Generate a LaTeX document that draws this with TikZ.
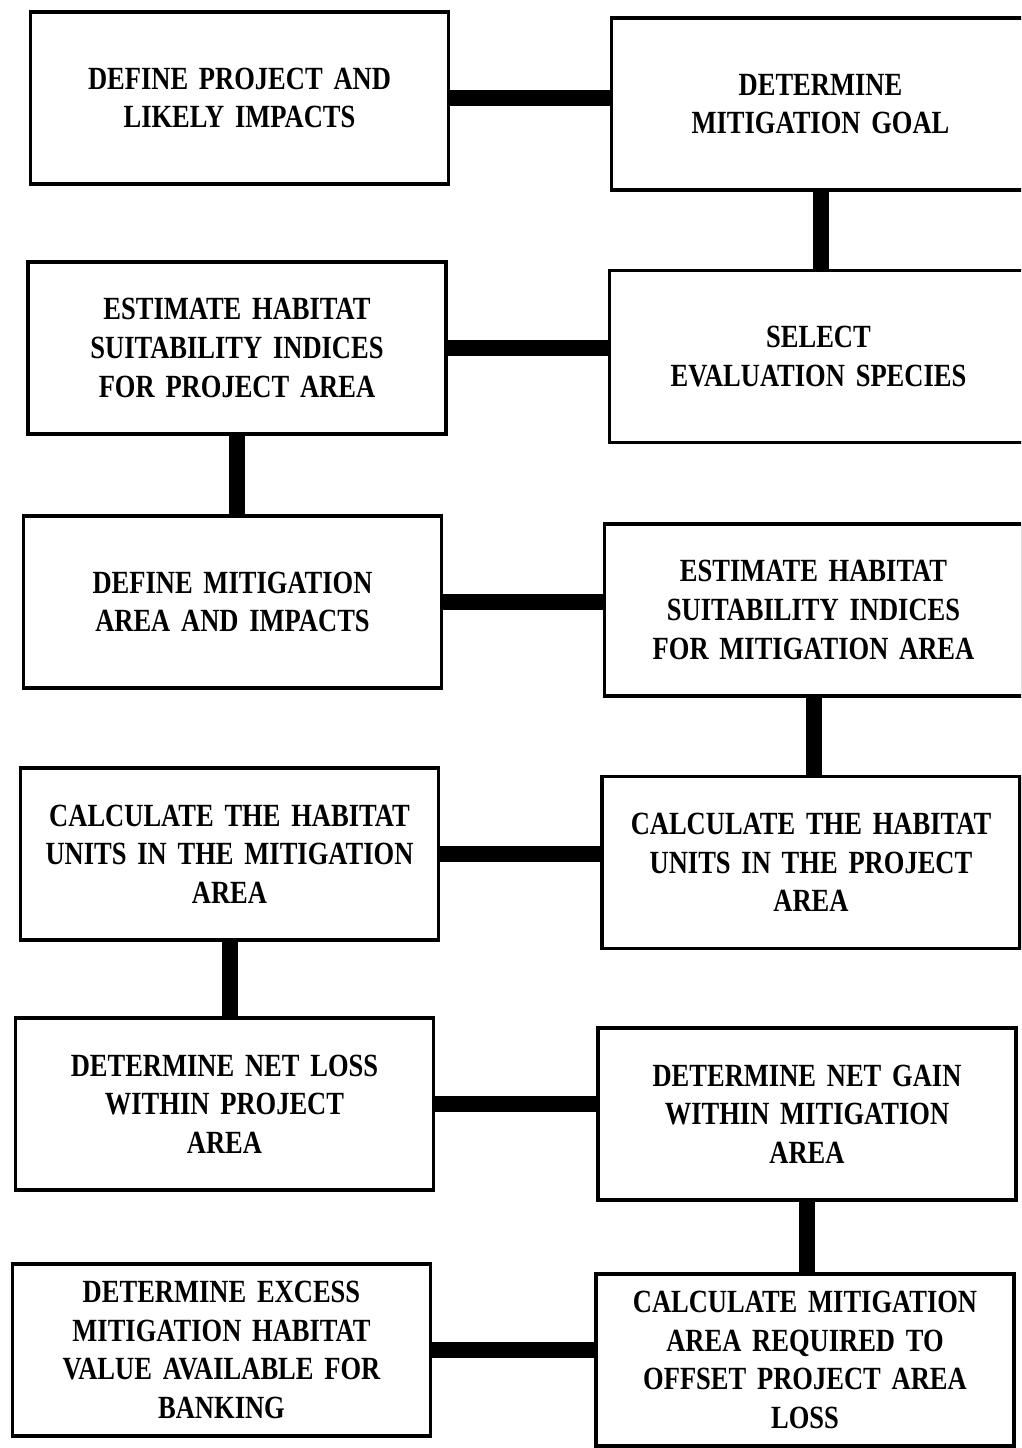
\documentclass[tikz,border=0pt]{standalone}
\usepackage{fontspec}
\setmainfont{Liberation Serif}[FakeStretch=0.82, WordSpace=0.7]
\usepackage{tikz}
\usetikzlibrary{shapes}
\tikzstyle{flowbox}=[rectangle, draw, line width=0.09cm, minimum height=4.3cm, minimum width=10.45cm, text width=10cm, align=center, font=\bfseries\fontsize{23}{27.5}\selectfont]
\tikzstyle{flowlink}=[line width=0.4cm]
\newcommand{\flowbox}[3]{
	\node[flowbox] (#1) at (#2) {#3};}

\begin{document}
\begin{tikzpicture}[x=0.025cm, y=-0.025cm]
	\useasboundingbox (0,0) rectangle (1021,1448);
	\clip (0,0) rectangle (1021,1448);

	\flowbox{project}{239.5,98}{DEFINE PROJECT AND\\LIKELY IMPACTS}
	\flowbox{goal}{820.5,104}{DETERMINE\\MITIGATION GOAL}
	\flowbox{hsiproject}{237,348}{ESTIMATE HABITAT\\SUITABILITY INDICES\\FOR PROJECT AREA}
	\flowbox{species}{818.5,356.5}{SELECT\\EVALUATION SPECIES}
	\flowbox{mitarea}{232.5,602}{DEFINE MITIGATION\\AREA AND IMPACTS}
	\flowbox{hsimit}{813.5,610}{ESTIMATE HABITAT\\SUITABILITY INDICES\\FOR MITIGATION AREA}
	\flowbox{humit}{229.5,854}{CALCULATE THE HABITAT\\UNITS IN THE MITIGATION\\AREA}
	\flowbox{huproject}{811,862.5}{CALCULATE THE HABITAT\\UNITS IN THE PROJECT\\AREA}
	\flowbox{netloss}{224.5,1104}{DETERMINE NET LOSS\\WITHIN PROJECT\\AREA}
	\flowbox{netgain}{807,1114}{DETERMINE NET GAIN\\WITHIN MITIGATION\\AREA}
	\flowbox{banking}{221.5,1350}{DETERMINE EXCESS\\MITIGATION HABITAT\\VALUE AVAILABLE FOR\\BANKING}
	\flowbox{offset}{805,1360}{CALCULATE MITIGATION\\AREA REQUIRED TO\\OFFSET PROJECT AREA\\LOSS}

	\path (project.east) edge[flowlink] (project.east -| goal.west);
	\path (goal.south) edge[flowlink] (goal.south |- species.north);
	\path (hsiproject.east) edge[flowlink] (hsiproject.east -| species.west);
	\path (hsiproject.south) edge[flowlink] (hsiproject.south |- mitarea.north);
	\path (mitarea.east) edge[flowlink] (mitarea.east -| hsimit.west);
	\path (hsimit.south) edge[flowlink] (hsimit.south |- huproject.north);
	\path (humit.east) edge[flowlink] (humit.east -| huproject.west);
	\path (humit.south) edge[flowlink] (humit.south |- netloss.north);
	\path (netloss.east) edge[flowlink] (netloss.east -| netgain.west);
	\path (netgain.south) edge[flowlink] (netgain.south |- offset.north);
	\path (banking.east) edge[flowlink] (banking.east -| offset.west);
\end{tikzpicture}
\end{document}
